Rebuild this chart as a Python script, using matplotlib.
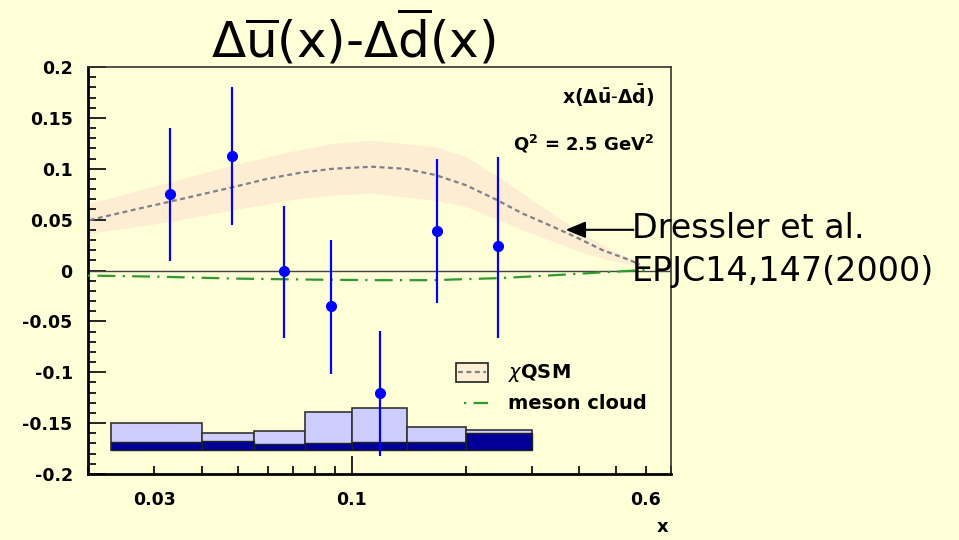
import numpy as np
import matplotlib
matplotlib.use("Agg")
import matplotlib.pyplot as plt
from matplotlib.ticker import FixedLocator, FuncFormatter
from matplotlib.patches import Rectangle
from matplotlib.lines import Line2D

plt.rcParams['font.family'] = ['DejaVu Sans']
plt.rcParams['mathtext.fontset'] = 'dejavusans'

# data points
x_pts = [0.033, 0.048, 0.066, 0.088, 0.119, 0.168, 0.243]
y_pts = [0.075, 0.113, 0.0, -0.035, -0.12, 0.039, 0.024]
y_err_lo = [0.066, 0.068, 0.066, 0.067, 0.062, 0.071, 0.090]
y_err_hi = [0.065, 0.067, 0.063, 0.065, 0.061, 0.071, 0.088]

# chiQSM central curve (Dressler et al.)
x_qsm = [0.0202, 0.0274, 0.0329, 0.0395, 0.0483, 0.0595, 0.0728, 0.0890, 0.113, 0.138,
         0.166, 0.200, 0.240, 0.283, 0.333, 0.391, 0.461, 0.544, 0.578]
qsm_mid = [0.0496, 0.061, 0.0676, 0.0744, 0.0818, 0.090, 0.096, 0.100, 0.102, 0.100,
           0.094, 0.084, 0.070, 0.056, 0.0447, 0.033, 0.020, 0.0103, 0.006]

# chiQSM error band
x_band = [0.0202, 0.0329, 0.0483, 0.0728, 0.0890, 0.113, 0.166, 0.200, 0.240, 0.283,
          0.333, 0.391, 0.461, 0.544, 0.589]
band_hi = [0.066, 0.087, 0.1037, 0.119, 0.125, 0.128, 0.1217, 0.112, 0.094, 0.076,
           0.058, 0.041, 0.025, 0.012, 0.004]
band_lo = [0.0366, 0.048, 0.0595, 0.071, 0.074, 0.076, 0.069, 0.063, 0.051, 0.040,
           0.030, 0.020, 0.012, 0.006, 0.002]

# meson cloud
x_mc = [0.02, 0.03, 0.05, 0.08, 0.12, 0.163, 0.245, 0.33, 0.45, 0.6]
y_mc = [-0.005, -0.006, -0.008, -0.009, -0.0095, -0.0095, -0.0075, -0.005, -0.002, 0.0005]

# systematic error bands
bin_edges = [0.023, 0.04, 0.055, 0.075, 0.1, 0.14, 0.2, 0.3]
sys_base = -0.176
sys_light_top = [-0.150, -0.160, -0.158, -0.139, -0.135, -0.154, -0.157]
sys_dark_top = [-0.169, -0.168, -0.171, -0.170, -0.169, -0.169, -0.160]

bg = '#FFFFD8'
fig = plt.figure(figsize=(9.59, 5.4), dpi=100, facecolor=bg)
ax = fig.add_axes([88/959, 66/540, 583/959, 407/540], facecolor=bg)
ax.set_xscale('log')
ax.set_xlim(0.02, 0.7)
ax.set_ylim(-0.2, 0.2)

# band + central curve
ax.fill_between(x_band, band_lo, band_hi, color='#FDEDD3', lw=0, zorder=1)
ax.plot(x_qsm, qsm_mid, color='#808088', lw=1.6, dashes=(2.2, 1.6), zorder=2)

ax.axhline(0, color='#444444', lw=1.0, zorder=2)

mc_line, = ax.plot(x_mc, y_mc, color='#2E9A2E', lw=1.6, zorder=3)
mc_line.set_dashes((1, 3.3, 8, 3.3))

# systematics histograms
left = np.array(bin_edges[:-1])
width = np.diff(bin_edges)
light_h = np.array(sys_light_top) - sys_base
dark_h = np.array(sys_dark_top) - sys_base
ax.bar(left, light_h, width=width, bottom=sys_base, align='edge',
       color='#CCCCFF', edgecolor='#333333', lw=1.2, zorder=3)
ax.bar(left, dark_h, width=width, bottom=sys_base, align='edge',
       color='#000099', edgecolor='#222222', lw=1.0, zorder=4)

# data points
ax.errorbar(x_pts, y_pts, yerr=[y_err_lo, y_err_hi], fmt='o', color='#0000FF',
            ms=7, elinewidth=1.6, capsize=0, zorder=5)

# spines and ticks
for s in ['left', 'bottom']:
    ax.spines[s].set_linewidth(2)
    ax.spines[s].set_color('black')
for s in ['top', 'right']:
    ax.spines[s].set_linewidth(1.2)
    ax.spines[s].set_color('#333333')

ax.yaxis.set_major_locator(FixedLocator(np.round(np.arange(-0.2, 0.201, 0.05), 3)))
ax.yaxis.set_minor_locator(FixedLocator(np.round(np.arange(-0.2, 0.201, 0.01), 3)))
ax.yaxis.set_major_formatter(FuncFormatter(lambda v, p: '0' if abs(v) < 1e-9 else f'{v:g}'))

ax.xaxis.set_major_locator(FixedLocator([0.1]))
ax.xaxis.set_major_formatter(FuncFormatter(lambda v, p: '0.1'))
minor_x = [0.02, 0.03, 0.04, 0.05, 0.06, 0.07, 0.08, 0.09, 0.2, 0.3, 0.4, 0.5, 0.6, 0.7]
ax.xaxis.set_minor_locator(FixedLocator(minor_x))
lab = {0.03: '0.03', 0.6: '0.6'}
ax.xaxis.set_minor_formatter(FuncFormatter(lambda v, p: lab.get(round(v, 3), '')))

ax.tick_params(which='both', direction='in', top=False, right=False,
               labelsize=12.5, width=1.2, color='black')
ax.tick_params(which='major', length=13)
ax.tick_params(which='minor', length=6)
ax.tick_params(axis='y', which='both', pad=11)
ax.tick_params(axis='x', which='both', pad=12)
for t in ax.get_xticklabels(which='both') + ax.get_yticklabels():
    t.set_fontweight('bold')

# legend (manual)
ax.add_patch(Rectangle((0.631, 0.226), 0.055, 0.047, transform=ax.transAxes,
                       facecolor='#FEEFD5', edgecolor='#222222', lw=1.2, zorder=6))
ax.add_line(Line2D([0.634, 0.683], [0.2495, 0.2495], transform=ax.transAxes,
                   color='#808088', lw=1.6, dashes=(2.2, 1.6), zorder=7))
ax.text(0.72, 0.248, r'$\chi$QSM', transform=ax.transAxes, fontsize=14,
        fontweight='bold', va='center', ha='left', zorder=7)
leg_mc = Line2D([0.645, 0.686], [0.174, 0.174], transform=ax.transAxes,
                color='#2E9A2E', lw=1.6, zorder=7)
leg_mc.set_dashes((1, 3.3, 8, 3.3))
ax.add_line(leg_mc)
ax.text(0.72, 0.174, 'meson cloud', transform=ax.transAxes, fontsize=14,
        fontweight='bold', va='center', ha='left', zorder=7)

# labels in the upper right
ax.text(0.972, 0.93, r'$\mathbf{x(\Delta\bar{u}\text{-}\Delta\bar{d})}$', transform=ax.transAxes,
        fontsize=13.5, ha='right', va='center')
ax.text(0.972, 0.81, r'$\mathbf{Q^2}$ = 2.5 GeV$^\mathbf{2}$', transform=ax.transAxes,
        fontsize=13, fontweight='bold', ha='right', va='center')

# arrow + reference
ax.annotate('', xy=(0.362, 0.04), xytext=(0.566, 0.04),
            arrowprops=dict(arrowstyle='-|>,head_width=0.5,head_length=1.2',
                            color='black', lw=1.5), annotation_clip=False, zorder=8)
fig.text(632/959, 1 - 229/540, 'Dressler et al.', fontsize=24, ha='left', va='center')
fig.text(632/959, 1 - 271/540, 'EPJC14,147(2000)', fontsize=24, ha='left', va='center')

# title
fig.text(353/959, 1 - 37/540, r'$\Delta\overline{\mathrm{u}}\mathrm{(x)}$-$\Delta\overline{\mathrm{d}}\mathrm{(x)}$',
         fontsize=36, ha='center', va='center')

fig.text(663/959, 1 - 527/540, 'x', fontsize=13, fontweight='bold', ha='center', va='center')

fig.savefig('out.png', dpi=100, facecolor=bg)
